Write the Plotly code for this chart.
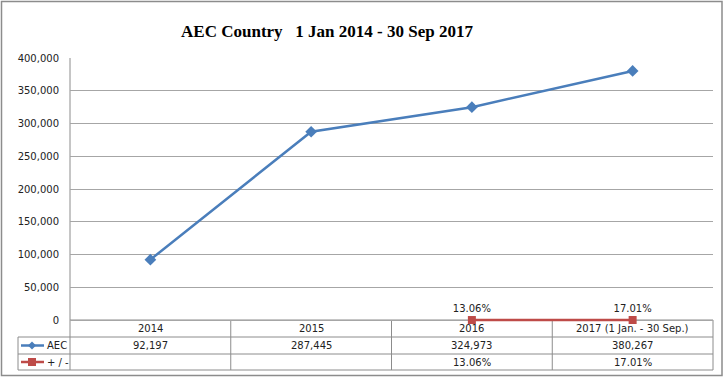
import plotly.graph_objects as go

# ---- data ----
categories = ["2014", "2015", "2016", "2017 (1 Jan. - 30 Sep.)"]
aec_values = [92197, 287445, 324973, 380267]
change_values = [None, None, 13.06, 17.01]
change_labels = ["", "", "13.06%", "17.01%"]
series_names = ["AEC", "+ / -"]
y_ticks = [0, 50000, 100000, 150000, 200000, 250000, 300000, 350000, 400000]
title_text = "AEC Country\u00a0\u00a0\u00a01 Jan 2014 - 30 Sep 2017"

W, H = 725, 377
L, R, T, B = 70, 12, 58, 55
PW = W - L - R
PH = H - T - B

def px(xp):
    return (xp - L) / PW

def py(yp):
    return (H - B - yp) / PH

blue = "#4A7EBB"
red = "#BE4B48"
grid = "#A6A6A6"
border = "#8C8C8C"
font = dict(family="DejaVu Sans", size=10, color="#222222")

fig = go.Figure()
fig.add_trace(go.Scatter(
    x=list(range(len(categories))), y=aec_values, mode="lines+markers",
    line=dict(color=blue, width=2.5),
    marker=dict(symbol="diamond", size=9, color=blue),
    name=series_names[0], cliponaxis=False))
fig.add_trace(go.Scatter(
    x=list(range(len(categories))), y=change_values, mode="lines+markers+text",
    line=dict(color=red, width=2.5),
    marker=dict(symbol="square", size=8, color=red),
    text=change_labels, textposition="top center",
    textfont=font, name=series_names[1], cliponaxis=False))

shapes = []
def hline(x0, x1, y, color=border, w=1, layer="below"):
    shapes.append(dict(type="line", xref="paper", yref="paper", layer=layer,
                       x0=px(x0), x1=px(x1), y0=py(y), y1=py(y),
                       line=dict(color=color, width=w)))
def vline(x, y0, y1, color=border, w=1, layer="below"):
    shapes.append(dict(type="line", xref="paper", yref="paper", layer=layer,
                       x0=px(x), x1=px(x), y0=py(y0), y1=py(y1),
                       line=dict(color=color, width=w)))

n = len(categories)
col_edges = [L + PW * i / n for i in range(n + 1)]
col_centers = [L + PW * (i + 0.5) / n for i in range(n)]
row_tops = [320, 337, 354, 370]

# table lines
hline(L, W - R, row_tops[0])
for yy in row_tops[1:]:
    hline(18, W - R, yy)
vline(18, row_tops[1], row_tops[3])
vline(L, T, row_tops[3])
for xe in col_edges[1:]:
    vline(xe, row_tops[0], row_tops[3])

# outer frame
shapes.append(dict(type="rect", xref="paper", yref="paper",
                   x0=px(1.5), x1=px(722), y0=py(1.5), y1=py(375.5),
                   line=dict(color=border, width=1.5)))

# legend keys
r1 = (row_tops[1] + row_tops[2]) / 2
r2 = (row_tops[2] + row_tops[3]) / 2
hline(21, 44, r1, color=blue, w=2.5, layer="above")
hline(21, 44, r2, color=red, w=2.5, layer="above")
kx = 32
shapes.append(dict(type="path", xref="paper", yref="paper",
                   path=f"M {px(kx-4)} {py(r1)} L {px(kx)} {py(r1-4)} L {px(kx+4)} {py(r1)} L {px(kx)} {py(r1+4)} Z",
                   fillcolor=blue, line=dict(color=blue, width=0)))
shapes.append(dict(type="rect", xref="paper", yref="paper",
                   x0=px(kx-4), x1=px(kx+4), y0=py(r2+4), y1=py(r2-4),
                   fillcolor=red, line=dict(color=red, width=0)))

annotations = []
def txt(x, y, s, anchor="center"):
    annotations.append(dict(xref="paper", yref="paper", x=px(x), y=py(y),
                            text=s, showarrow=False, xanchor=anchor,
                            yanchor="middle", font=font))

h_mid = (row_tops[0] + row_tops[1]) / 2
for i, c in enumerate(categories):
    txt(col_centers[i], h_mid, c)
    txt(col_centers[i], r1, f"{aec_values[i]:,}")
    if change_labels[i]:
        txt(col_centers[i], r2, change_labels[i])
txt(45, r1, series_names[0], "left")
txt(45, r2, series_names[1], "left")

fig.update_layout(
    width=W, height=H, margin=dict(l=L, r=R, t=T, b=B),
    paper_bgcolor="white", plot_bgcolor="white",
    showlegend=False,
    title=dict(text=title_text, x=327 / W, xanchor="center", y=1 - 31 / H,
               yanchor="middle",
               font=dict(family="Liberation Serif", size=17, color="black",
                         weight="bold")),
    shapes=shapes, annotations=annotations,
    xaxis=dict(range=[-0.5, n - 0.5], showgrid=False, showticklabels=False,
               zeroline=False, showline=False, ticks=""),
    yaxis=dict(range=[-3000, 400000], tickvals=y_ticks, tickformat=",",
               showgrid=True, gridcolor=grid, gridwidth=1, zeroline=False,
               showline=False, ticks="", ticklabelstandoff=10,
               tickfont=font),
)
fig.write_html("out.html", config={"displayModeBar": False},
               post_script="document.body.style.margin='0px';")
